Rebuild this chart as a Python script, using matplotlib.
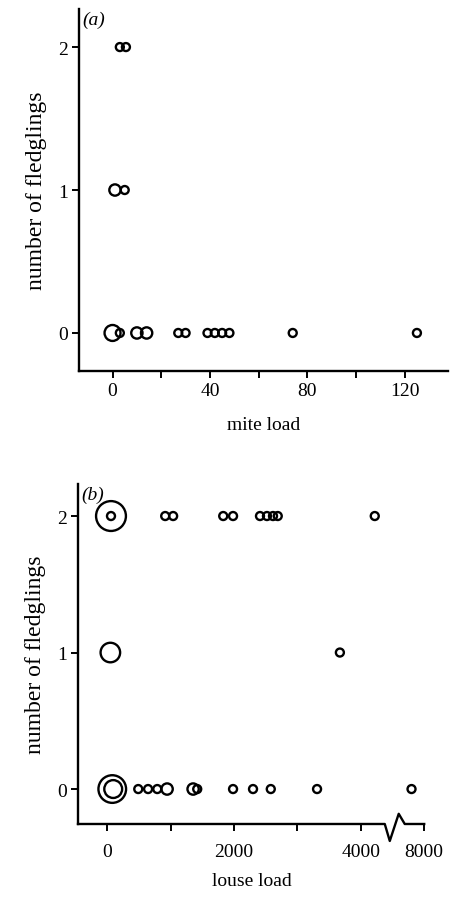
import numpy as np
import matplotlib
matplotlib.use('Agg')
import matplotlib.pyplot as plt
import matplotlib.transforms as mtransforms

plt.rcParams['font.family'] = ['Liberation Serif', 'DejaVu Serif']

# (a) mite load vs fledglings; count = number of nests at that point
mite_load = [0, 3, 10, 14, 27, 30, 39, 42, 45, 48, 74, 125,
             1, 5,
             3, 5.5]
fledg_a = [0, 0, 0, 0, 0, 0, 0, 0, 0, 0, 0, 0,
           1, 1,
           2, 2]
count_a = [4, 1, 2, 2, 1, 1, 1, 1, 1, 1, 1, 1,
           2, 1,
           1, 1]

# (b) louse load vs fledglings
louse_load = [80, 95, 490, 645, 790, 945, 1355, 1420, 1985, 2300, 2580, 3310, 7800,
              50, 3670,
              60, 60, 915, 1040, 1830, 1985, 2410, 2520, 2615, 2690, 4220]
fledg_b = [0, 0, 0, 0, 0, 0, 0, 0, 0, 0, 0, 0, 0,
           1, 1,
           2, 2, 2, 2, 2, 2, 2, 2, 2, 2, 2]
count_b = [12, 5, 1, 1, 1, 2, 2, 1, 1, 1, 1, 1, 1,
           6, 1,
           14, 1, 1, 1, 1, 1, 1, 1, 1, 1, 1]

base = 33

fig = plt.figure(figsize=(4.51, 9.04), dpi=100)
axa = fig.add_axes([0.175, 0.5885, 0.818, 0.4004])
axb = fig.add_axes([0.173, 0.0874, 0.769, 0.376])

for ax in (axa, axb):
    ax.spines['top'].set_visible(False)
    ax.spines['right'].set_visible(False)
    ax.spines['left'].set_linewidth(1.7)
    ax.spines['bottom'].set_linewidth(1.7)
    ax.tick_params(direction='out', length=5, width=1.4, labelsize=14, pad=3)
    ax.set_yticks([0, 1, 2])
    ax.set_ylabel('number of fledglings', fontsize=17, labelpad=8)

# panel a
axa.scatter(mite_load, fledg_a, s=np.array(count_a) * base, facecolors='none',
            edgecolors='black', linewidths=1.7, clip_on=False)
axa.set_xlim(-13.8, 137.7)
axa.set_ylim(-0.266, 2.266)
axa.set_xticks([0, 20, 40, 60, 80, 100, 120])
axa.set_xticklabels(['0', '', '40', '', '80', '', '120'])
axa.set_xlabel('mite load', fontsize=14, labelpad=12)
axa.text(0.01, 0.995, '(a)', transform=axa.transAxes, fontsize=14,
         style='italic', va='top', ha='left')

# panel b, with broken x axis (values above 6000 shifted left by 3000)
xb = np.array(louse_load, dtype=float)
xb = np.where(xb > 6000, xb - 3000, xb)
axb.scatter(xb, fledg_b, s=np.array(count_b) * base, facecolors='none',
            edgecolors='black', linewidths=1.7, clip_on=False)
axb.set_xlim(-460, 5010)
axb.set_ylim(-0.256, 2.234)
axb.set_xticks([0, 1000, 2000, 3000, 4000, 5000])
axb.set_xticklabels(['0', '', '2000', '', '4000', '8000'])
axb.tick_params(axis='x', pad=9)
axb.set_xlabel('louse load', fontsize=14, labelpad=8)
axb.text(0.01, 0.995, '(b)', transform=axb.transAxes, fontsize=14,
         style='italic', va='top', ha='left')

axb.spines['bottom'].set_visible(False)
trans = mtransforms.blended_transform_factory(axb.transData, axb.transAxes)
axb.plot([-460, 4378, 4457, 4598, 4693, 5000],
         [0, 0, -0.05, 0.03, 0, 0],
         transform=trans, color='black', lw=1.7, clip_on=False)

fig.savefig('out.png', dpi=100)
